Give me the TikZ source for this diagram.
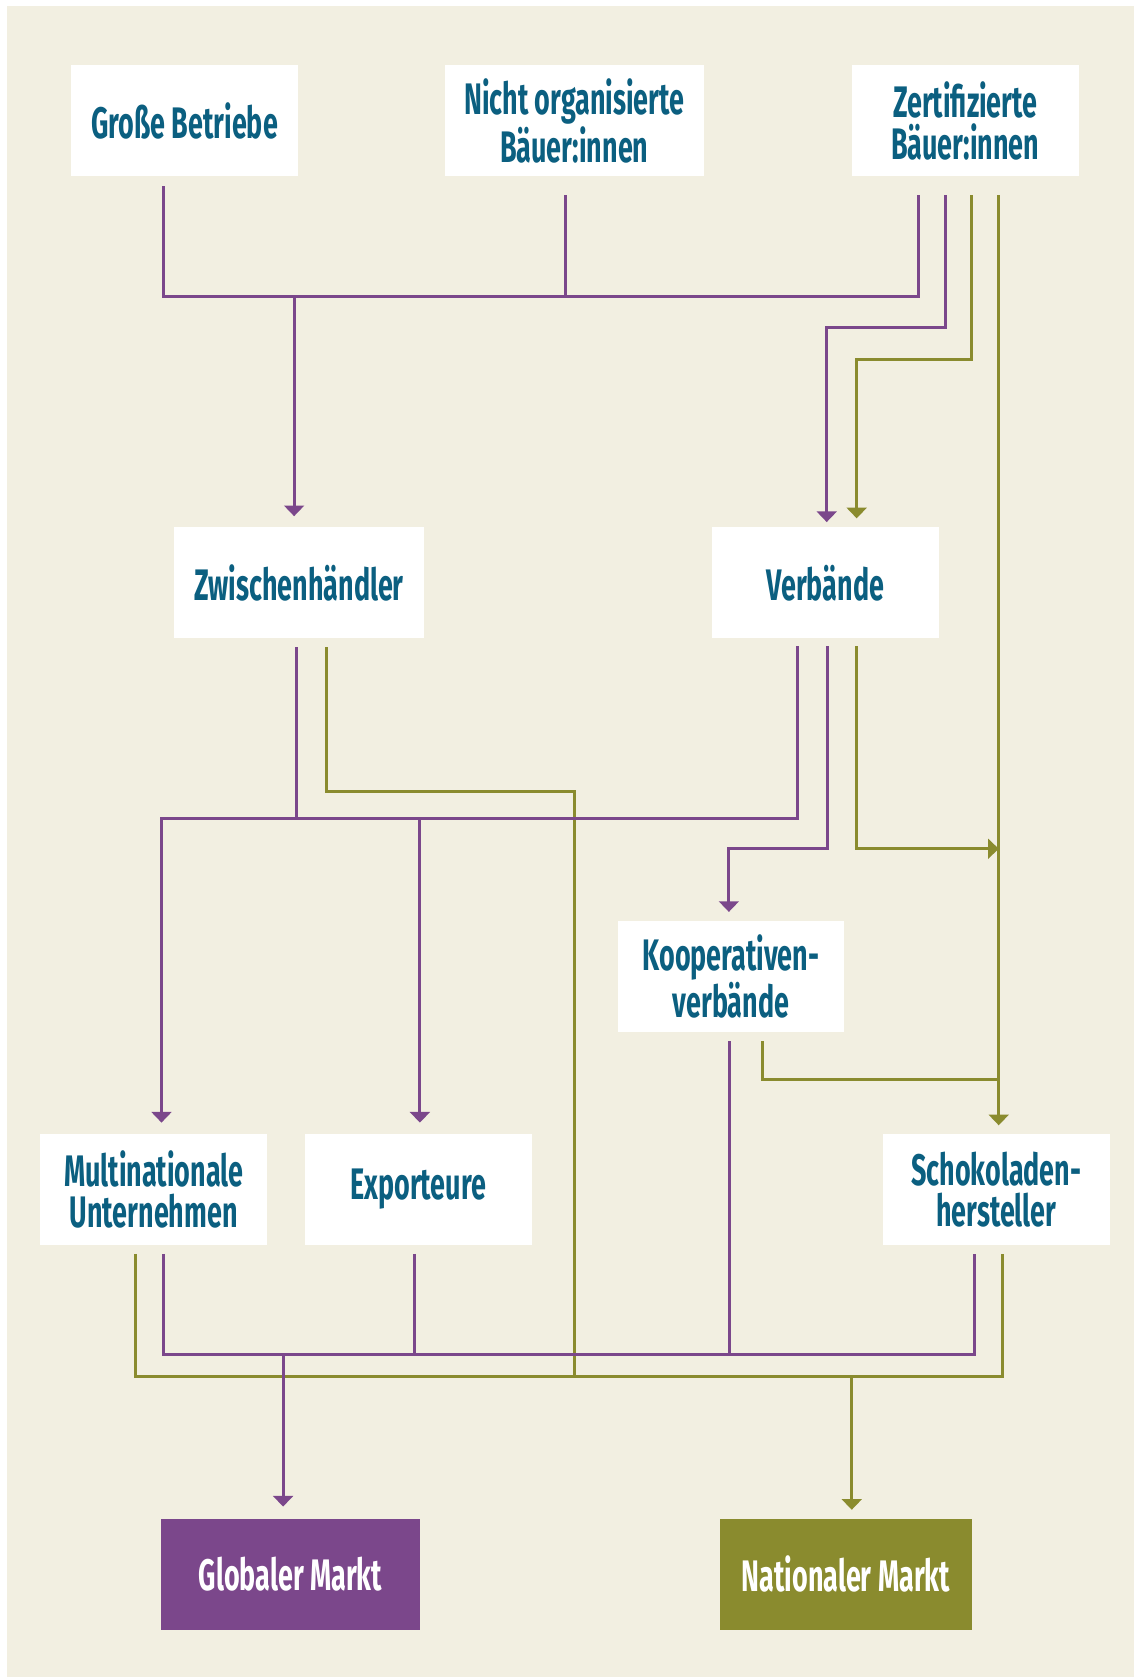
\documentclass[tikz,border=0pt]{standalone}
\usepackage{fontspec}
\usetikzlibrary{arrows.meta,calc}
\newfontfamily\condfont{Fira Sans}[FakeStretch=0.61]
\definecolor{bgcream}{HTML}{F2EFE1}
\definecolor{boxtext}{HTML}{0B5F80}
\definecolor{lila}{HTML}{7B478B}
\definecolor{oliv}{HTML}{8A8B2E}
\begin{document}
\begin{tikzpicture}[x=0.02cm, y=-0.02cm,
  every node/.style={font=\condfont\bfseries\fontsize{23.5}{22}\selectfont},
  actor/.style={fill=white, text=boxtext, align=center, inner sep=0pt, minimum width=4.24cm, minimum height=2.08cm},
  market/.style={actor, text=white, minimum width=4.84cm},
  purp/.style={draw=lila, line width=1.6pt},
  olive/.style={draw=oliv, line width=1.6pt},
  tip/.style={-{Triangle[width=0.37cm, length=0.2cm]}, shorten >=0.16cm}]
  % background
  \useasboundingbox (0,0) rectangle (1060,1568);
  \fill[bgcream] (6.5,5.6) rectangle (1060,1568);
  % producers
  \node[actor] (gb) at (172.5,113) {Große Betriebe};
  \node[actor, minimum width=4.84cm] (nb) at (537,113) {Nicht organisierte\\Bäuer:innen};
  \node[actor] (zb) at (902.5,113) {Zertifizierte\\Bäuer:innen};
  % middlemen
  \node[actor, minimum width=4.66cm] (zh) at (279.5,545) {Zwischenhändler};
  \node[actor] (vb) at (771.7,545) {Verbände};
  \node[actor] (kv) at (683.5,913) {Kooperativen-\\verbände};
  % buyers
  \node[actor] (mn) at (143.8,1112) {Multinationale\\Unternehmen};
  \node[actor] (ex) at (391,1112) {Exporteure};
  \node[actor] (sh) at (931.6,1112) {Schokoladen-\\hersteller};
  % markets
  \node[market, fill=lila] (gm) at (271.7,1472) {Globaler Markt};
  \node[market, fill=oliv, minimum width=4.72cm] (nm) at (791,1472) {Nationaler Markt};
  % junctions and bends
  \coordinate (hub1) at (275,277);
  \coordinate (bend1) at (773,306.6);
  \coordinate (bend2) at (801,336.5);
  \coordinate (zr) at ($(zb.south)+(31.3,17)$);
  \coordinate (hub2) at (151,765.6);
  \coordinate (hub3) at (392.6,765.6);
  \coordinate (bend3) at (681.5,793.3);
  \coordinate (bend4) at (933.8,793.6);
  \coordinate (bend5) at (537.5,740);
  \coordinate (bend6) at (933.8,1009.6);
  \coordinate (hub6) at (264.7,1266.6);
  \coordinate (hub7) at (796.4,1287);
  % olive flows
  \draw[olive, tip] ($(zb.south)+(6.1,17)$) |- (bend2) -- (bend2 |- vb.north);
  \draw[olive, tip, shorten >=0.15cm] (zr) -- (zr |- sh.north);
  \draw[olive, tip, shorten >=0pt] ($(vb.south)+(29.1,7)$) |- (bend4);
  \draw[olive] ($(kv.south)+(29.5,8)$) |- (bend6);
  \draw[olive] ($(zh.south)+(26.2,8)$) |- (bend5) -- (bend5 |- hub7);
  \draw[olive] ($(mn.south)+(-17.5,8)$) |- (hub7) -| ($(sh.south)+(6,8)$);
  \draw[olive, tip] (hub7) -- (hub7 |- nm.north);
  % purple flows
  \draw[purp] ($(gb.south)+(-19.5,9)$) |- (hub1) -| ($(zb.south)+(-43.5,17)$);
  \draw[purp] ($(nb.south)+(-8,17)$) |- (hub1);
  \draw[purp, tip, shorten >=0.2cm] (hub1) -- (hub1 |- zh.north);
  \draw[purp, tip, shorten >=0.09cm] ($(zb.south)+(-18.5,17)$) |- (bend1) -- (bend1 |- vb.north);
  \draw[purp, tip, shorten >=0.2cm] ($(vb.south)+(-25.7,7)$) |- (hub2) -- (hub2 |- mn.north);
  \draw[purp] ($(zh.south)+(-2.2,8)$) |- (hub2);
  \draw[purp, tip, shorten >=0.2cm] (hub3) -- (hub3 |- ex.north);
  \draw[purp, tip] ($(vb.south)+(2,7)$) |- (bend3) -- (bend3 |- kv.north);
  \draw[purp] ($(kv.south)+(-1.5,8)$) |- (hub6);
  \draw[purp] ($(mn.south)+(9.2,8)$) |- (hub6) -| ($(sh.south)+(-20,8)$);
  \draw[purp] ($(ex.south)+(-3.6,8)$) |- (hub6);
  \draw[purp, tip, shorten >=0.22cm] (hub6) -- (hub6 |- gm.north);
\end{tikzpicture}
\end{document}
